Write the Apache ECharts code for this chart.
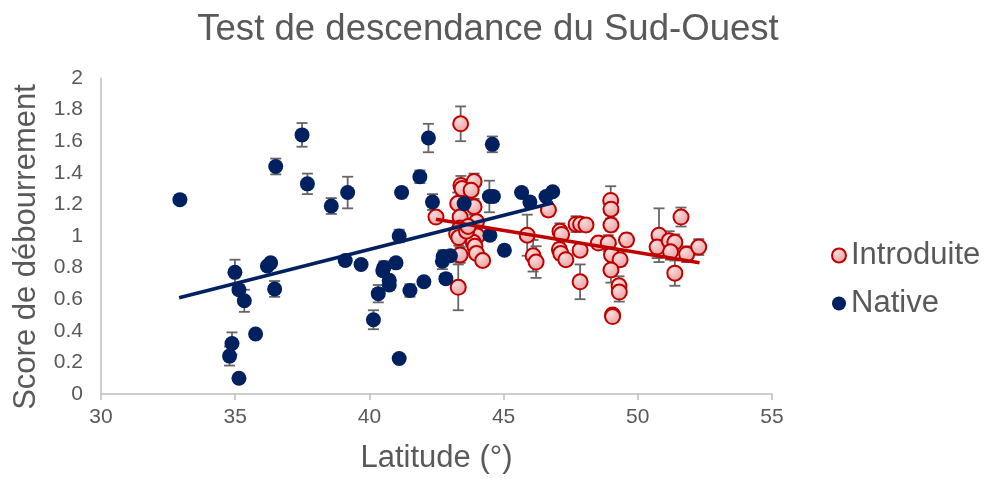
<!DOCTYPE html>
<html>
<head>
<meta charset="utf-8">
<script src="https://cdn.jsdelivr.net/npm/echarts@6/dist/echarts.min.js"></script>
<style>
html,body{margin:0;padding:0;background:#fff;}
#chart{width:986px;height:483px;}
</style>
</head>
<body>
<div id="chart"></div>
<script>
// ---- Data ----
const xTicks = [30, 35, 40, 45, 50, 55];
const yTicks = [0, 0.2, 0.4, 0.6, 0.8, 1, 1.2, 1.4, 1.6, 1.8, 2];

const nativeLat = [32.94,34.99,35.14,35.34,34.88,34.79,35.14,35.76,36.2,36.32,36.47,36.51,37.49,37.69,38.58,39.19,39.1,39.69,40.15,40.33,40.54,40.5,40.74,40.74,40.99,41.11,41.11,41.2,41.51,41.88,42.03,42.2,42.35,42.72,42.75,42.85,43.02,43.53,44.47,44.62,44.58,44.49,45.03,45.67,45.98,46.58,46.83];
const nativeScore = [1.23,0.77,0.66,0.59,0.32,0.24,0.10,0.38,0.81,0.83,0.665,1.44,1.64,1.33,1.19,1.275,0.845,0.82,0.47,0.635,0.80,0.78,0.72,0.69,0.83,1.0,0.225,1.275,0.655,1.375,0.71,1.62,1.215,0.84,0.87,0.73,0.875,1.205,1.25,1.25,1.58,1.005,0.91,1.275,1.215,1.25,1.28];
const nativeErr = [0.02,0.08,0.03,0.07,0.07,0.06,0.02,0.02,0.02,0.02,0.05,0.05,0.075,0.065,0.05,0.1,0.03,0.02,0.06,0.055,0.04,0.03,0.02,0.03,0.02,0.04,0.02,0.03,0.04,0.04,0.02,0.09,0.05,0.05,0.04,0.03,0.03,0.03,0.1,0.03,0.05,0.03,0.03,0.02,0.03,0.02,0.02];

const introLat = [43.4,43.31,42.48,43.41,43.45,43.9,43.79,43.29,43.9,43.38,43.99,43.38,43.25,43.33,44.02,43.87,43.93,43.38,43.99,44.22,43.62,43.68,45.88,46.1,46.21,46.67,47.1,47.16,47.08,47.13,47.32,47.85,47.85,47.7,47.87,48.07,48.53,48.99,49.0,49.0,48.9,49.02,49.34,49.0,49.3,49.31,49.06,49.06,49.58,50.79,50.72,51.17,51.38,51.22,51.38,51.61,51.82,52.27];
const introScore = [1.71,0.675,1.12,1.32,1.30,1.345,1.29,1.205,1.185,1.12,1.09,1.05,1.015,0.99,1.0,0.96,0.935,0.88,0.89,0.845,1.03,1.06,1.005,0.875,0.835,1.165,1.03,1.01,0.915,0.89,0.85,0.91,0.71,1.075,1.075,1.07,0.955,1.225,1.17,1.07,0.955,0.88,0.85,0.785,0.685,0.645,0.5,0.49,0.975,1.005,0.93,0.97,0.96,0.90,0.765,1.12,0.885,0.93];
const introErr = [0.11,0.145,0.03,0.06,0.04,0.05,0.04,0.07,0.05,0.05,0.04,0.05,0.04,0.05,0.04,0.04,0.03,0.05,0.03,0.03,0.04,0.05,0.13,0.1,0.1,0.04,0.05,0.03,0.04,0.04,0.03,0.03,0.11,0.05,0.03,0.03,0.03,0.09,0.06,0.04,0.05,0.07,0.04,0.08,0.06,0.06,0.02,0.02,0.04,0.17,0.07,0.06,0.05,0.05,0.08,0.06,0.05,0.05];

// Trendline end points
const nativeTrendLat = [32.91, 46.85];
const nativeTrendScore = [0.609, 1.21];
const introTrendLat = [42.48, 52.3];
const introTrendScore = [1.106, 0.831];

// ---- Build series data ----
const zip2 = (a, b) => a.map((v, i) => [v, b[i]]);
const zip3 = (a, b, c) => a.map((v, i) => [v, b[i], c[i]]);

const FONT = "'Liberation Sans', Arial, sans-serif";
const TXT = '#595959';
const NAVY = '#002060';
const RED = '#C00000';

function errRender(params, api) {
  const x = api.value(0), y = api.value(1), e = api.value(2);
  const t = api.coord([x, y + e]);
  const b = api.coord([x, y - e]);
  const hw = 5.5;
  const st = { stroke: '#666666', lineWidth: 1.8 };
  return {
    type: 'group',
    children: [
      { type: 'line', shape: { x1: t[0], y1: t[1], x2: b[0], y2: b[1] }, style: st },
      { type: 'line', shape: { x1: t[0] - hw, y1: t[1], x2: t[0] + hw, y2: t[1] }, style: st },
      { type: 'line', shape: { x1: b[0] - hw, y1: b[1], x2: b[0] + hw, y2: b[1] }, style: st }
    ]
  };
}

const pinkFill = {
  type: 'radial', x: 0.35, y: 0.3, r: 0.8,
  colorStops: [{ offset: 0, color: '#FADCDC' }, { offset: 1, color: '#E79999' }]
};

const chart = echarts.init(document.getElementById('chart'), null, { renderer: 'canvas' });
chart.setOption({
  backgroundColor: '#ffffff',
  animation: false,
  textStyle: { fontFamily: FONT },
  title: {
    text: 'Test de descendance du Sud-Ouest',
    left: 483, top: 6, textAlign: 'center',
    textStyle: { fontFamily: FONT, fontSize: 36.6, fontWeight: 'normal', color: TXT }
  },
  grid: { left: 101, right: 214, top: 78, bottom: 89, containLabel: false },
  legend: {
    data: ['Introduite', 'Native'],
    orient: 'vertical',
    left: 831, top: 240, padding: 0,
    itemWidth: 14, itemHeight: 14, itemGap: 17,
    textStyle: { fontFamily: FONT, fontSize: 31, color: TXT, lineHeight: 31, padding: [0, 0, 0, 0] }
  },
  xAxis: {
    type: 'value', min: 30, max: 55, interval: 5,
    name: 'Latitude (°)', nameLocation: 'middle', nameGap: 49,
    nameTextStyle: { fontFamily: FONT, fontSize: 31, color: TXT },
    axisLine: { show: true, onZero: false, lineStyle: { color: '#BFBFBF', width: 1.5 } },
    axisTick: { show: true, inside: false, length: 6, lineStyle: { color: '#BFBFBF', width: 1.5 } },
    axisLabel: { fontFamily: FONT, fontSize: 21, color: TXT, margin: 13,
      formatter: v => (xTicks.indexOf(v) >= 0 ? String(v) : '') },
    splitLine: { show: false }
  },
  yAxis: {
    type: 'value', min: 0, max: 2, interval: 0.2,
    axisLine: { show: true, onZero: false, lineStyle: { color: '#BFBFBF', width: 1.5 } },
    axisTick: { show: false },
    axisLabel: { fontFamily: FONT, fontSize: 21, color: TXT, margin: 18,
      formatter: v => { const m = yTicks.find(t => Math.abs(t - v) < 1e-9); return m === undefined ? '' : String(m); } },
    splitLine: { show: false }
  },
  graphic: [{
    type: 'text',
    x: 26, y: 247,
    rotation: Math.PI / 2,
    style: {
      text: 'Score de débourrement',
      font: "31px 'Liberation Sans', Arial, sans-serif",
      fill: TXT, textAlign: 'center', textVerticalAlign: 'middle'
    }
  }],
  series: [
    {
      name: 'errIntro', type: 'custom', renderItem: errRender, z: 1,
      data: zip3(introLat, introScore, introErr), encode: { x: 0, y: 1 }, silent: true
    },
    {
      name: 'errNative', type: 'custom', renderItem: errRender, z: 1,
      data: zip3(nativeLat, nativeScore, nativeErr), encode: { x: 0, y: 1 }, silent: true
    },
    {
      name: 'Introduite', type: 'scatter', z: 3,
      symbol: 'circle', symbolSize: 15,
      itemStyle: { color: pinkFill, borderColor: RED, borderWidth: 2, opacity: 1 },
      data: zip2(introLat, introScore)
    },
    {
      name: 'Native', type: 'scatter', z: 4,
      symbol: 'circle', symbolSize: 15,
      itemStyle: { color: NAVY, opacity: 1 },
      data: zip2(nativeLat, nativeScore)
    },
    {
      name: 'trendIntro', type: 'line', z: 5, showSymbol: false, symbol: 'none',
      lineStyle: { color: RED, width: 3.5 },
      data: zip2(introTrendLat, introTrendScore)
    },
    {
      name: 'trendNative', type: 'line', z: 6, showSymbol: false, symbol: 'none',
      lineStyle: { color: NAVY, width: 3.5 },
      data: zip2(nativeTrendLat, nativeTrendScore)
    }
  ]
});
</script>
</body>
</html>
